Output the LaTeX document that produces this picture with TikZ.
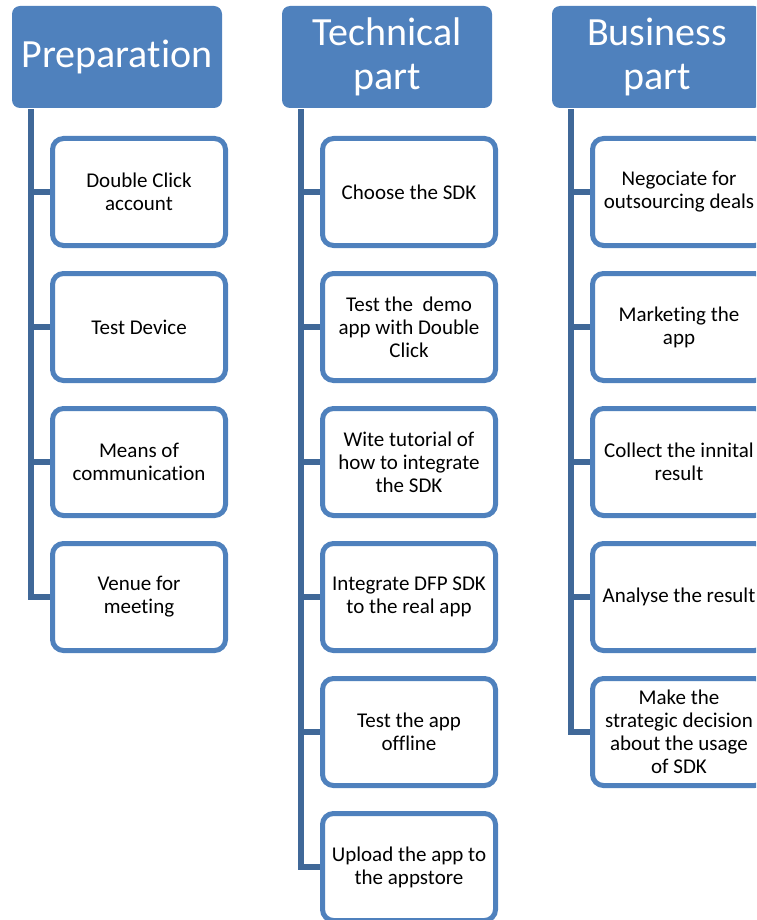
\documentclass[tikz,border=0pt]{standalone}
\usepackage{fontspec}
\setmainfont{Carlito}[Ligatures=NoCommon]
\definecolor{boxblue}{RGB}{79,129,189}
\definecolor{linkblue}{RGB}{64,104,152}
\tikzset{
  header/.style={fill=boxblue, text=white, rounded corners=8pt, inner sep=0pt,
    minimum width=210pt, minimum height=102pt, align=center,
    font=\fontsize{40}{43.5}\selectfont},
  task/.style={draw=boxblue, line width=5pt, fill=white, rounded corners=11pt,
    inner sep=0pt, minimum width=173pt, minimum height=107pt, align=center,
    font=\fontsize{21}{23}\selectfont},
  link/.style={draw=linkblue, line width=5.5pt}
}
\begin{document}
\begin{tikzpicture}[x=1pt, y=-1pt]
\useasboundingbox (0,0) rectangle (756,920);
\clip (0,0) rectangle (756,920);

% column headers
\node[header] (h1) at (117,57) {\raisebox{-2pt}{Preparation}};
\node[header] (h2) at (387,57) {Technical\\part};
\node[header] (h3) at (657,57) {Business\\part};

% preparation tasks
\node[task] (p1) at (139,192) {Double Click\\account};
\node[task] (p2) at (139,327) {Test Device};
\node[task] (p3) at (139,462) {Means of\\communication};
\node[task] (p4) at (139,597) {Venue for\\meeting};

% technical tasks
\node[task] (t1) at (409,192) {Choose the SDK};
\node[task] (t2) at (409,327) {Test the\ \ demo\\app with Double\\Click};
\node[task] (t3) at (409,462) {Wite tutorial of\\how to integrate\\the SDK};
\node[task] (t4) at (409,597) {Integrate DFP SDK\\to the real app};
\node[task] (t5) at (409,732) {Test the app\\offline};
\node[task] (t6) at (409,867) {Upload the app to\\the appstore};

% business tasks
\node[task] (b1) at (679,192) {Negociate for\\outsourcing deals};
\node[task] (b2) at (679,327) {Marketing the\\app};
\node[task] (b3) at (679,462) {Collect the innital\\result};
\node[task] (b4) at (679,597) {Analyse the result};
\node[task] (b5) at (679,732) {Make the\\strategic decision\\about the usage\\of SDK};

% tree connectors: header down the left side, then across to each task
\foreach \c in {p1,p2,p3,p4}
  \draw[link] ([xshift=19pt,yshift=-1pt]h1.south west) |- (\c.west);
\foreach \c in {t1,t2,t3,t4,t5,t6}
  \draw[link] ([xshift=19pt,yshift=-1pt]h2.south west) |- (\c.west);
\foreach \c in {b1,b2,b3,b4,b5}
  \draw[link] ([xshift=19pt,yshift=-1pt]h3.south west) |- (\c.west);
\end{tikzpicture}
\end{document}
